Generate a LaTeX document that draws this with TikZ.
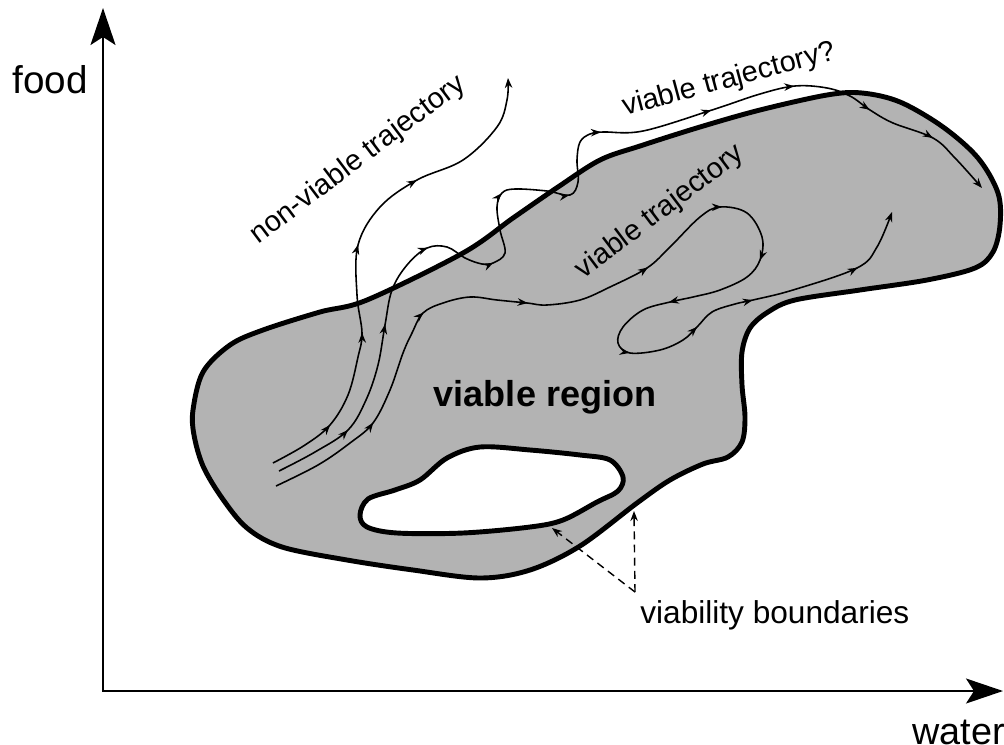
\documentclass[tikz,border=0pt]{standalone}
\usepackage{fontspec}
\setmainfont{Liberation Sans}
\usetikzlibrary{arrows.meta,decorations.markings}
\definecolor{grisregion}{RGB}{179,179,179}

\begin{document}
\begin{tikzpicture}[x=0.02cm,y=-0.02cm]
	% Styles (MODIFIABLES)
	\tikzstyle{axe}=[line width=1.1pt]
	\tikzstyle{frontiere}=[line width=2.8pt,line join=round]
	\tikzstyle{trajectoire}=[line width=0.9pt]
	\tikzstyle{pointilles}=[line width=0.8pt,dash pattern=on 4.5pt off 3pt]
	\tikzstyle{etiquette}=[inner sep=0pt,font=\fontsize{16.5}{19}\selectfont]
	\tikzset{>={Stealth[length=2mm,width=1.5mm]},
		fl/.style={postaction={decorate,decoration={markings,mark=at position #1 with {\arrow{>}}}}}}
	% Cadre
	\useasboundingbox (0,0) rectangle (1004,744);
	% Axes
	\coordinate (O) at (103,691);
	\coordinate (Y) at (103,8);
	\coordinate (X) at (1003,691);
	\draw[axe,{Stealth[length=7.4mm,width=5mm,inset=1.6mm]}-{Stealth[length=7.4mm,width=5mm,inset=1.6mm]}] (Y)--(O)--(X);
	\node[anchor=base west,inner sep=0pt,font=\fontsize{22}{26}\selectfont] (nourriture) at (12,93) {food};
	\node[anchor=base west,inner sep=0pt,font=\fontsize{21.5}{26}\selectfont] (eau) at (912,744) {water};
	% Region viable
	\draw[frontiere,fill=grisregion] plot[smooth cycle,tension=0.55] coordinates {
		(193,410) (203,372) (230,345) (263,330) (320,312) (367,300) (463,253)
		(513,218) (558,187) (600,160) (640,146) (700,127) (760,110) (827,95) (862,93)
		(900,102) (943,127) (978,158) (998,193) (1000,225) (993,252) (975,268) (927,280)
		(860,290) (795,300) (768,312) (750,328) (742,352) (742,385) (745,417) (742,442)
		(728,457) (703,464) (670,480) (637,503) (580,546) (530,570) (480,578) (413,570)
		(347,560) (282,547) (247,528) (222,498) (203,466) (194,435)};
	\draw[frontiere,fill=white] plot[smooth cycle,tension=0.55] coordinates {
		(360,515) (368,499) (395,490) (420,480) (447,458) (480,447) (530,450) (580,455)
		(610,460) (623,477) (618,491) (597,502) (563,520) (530,527) (463,533) (397,533)
		(367,527)};
	% Trajectoires
	\draw[trajectoire,fl=0.139,fl=0.339,fl=0.518,fl=0.699,->] plot[smooth,tension=0.6] coordinates {
		(273,463) (305,445) (330,425) (348,395) (358,357) (362,333) (357,295) (358,245)
		(380,207) (417,180) (463,160) (497,127) (507,100) (508,78)};
	\draw[trajectoire,fl=0.080,fl=0.193,fl=0.284,fl=0.354,fl=0.431,fl=0.500,fl=0.581,
		fl=0.694,fl=0.780,fl=0.861,fl=0.930,->] plot[smooth,tension=0.6] coordinates {
		(279,471) (315,452) (348,430) (366,400) (378,365) (385,325) (392,290) (407,265)
		(427,248) (447,247) (465,258) (482,264) (493,263) (505,253) (500,230) (497,207)
		(502,193) (515,189) (547,191) (570,195) (578,182) (577,160) (580,142) (590,134)
		(603,132) (643,131) (712,110) (760,94) (795,86) (827,88) (850,96) (870,110)
		(893,123) (933,138) (955,158) (982,188)};
	\draw[trajectoire,fl=0.101,fl=0.206,fl=0.299,fl=0.410,fl=0.494,fl=0.562,fl=0.652,
		fl=0.727,fl=0.792,fl=0.847,fl=0.942,->] plot[smooth,tension=0.6] coordinates {
		(276,486) (318,465) (350,443) (373,423) (390,390) (403,353) (412,333) (423,313)
		(443,303) (470,297) (497,300) (527,303) (547,305) (580,300) (610,287) (647,268)
		(670,247) (700,217) (720,207) (747,213) (762,237) (760,260) (747,277) (720,290)
		(693,297) (670,302) (643,310) (623,327) (618,343) (630,353) (660,350) (683,340)
		(697,327) (712,312) (735,304) (753,300) (793,290) (857,268) (877,247) (892,212)};
	% Etiquettes
	\node[etiquette,rotate=37] (nonviable) at (358,160) {non-viable trajectory};
	\node[etiquette,rotate=37] (viable) at (660,212) {viable trajectory};
	\node[etiquette,rotate=15] (viableq) at (729,80) {viable trajectory?};
	\node[anchor=base,inner sep=0pt,font=\bfseries\fontsize{20.5}{24}\selectfont] (region) at (545,406) {viable region};
	% Frontieres
	\node[anchor=base west,inner sep=0pt,font=\fontsize{18}{21}\selectfont] (frontieres) at (640,623) {viability boundaries};
	\coordinate (F) at (635,592);
	\coordinate (Fext) at (634,511);
	\coordinate (Fint) at (552,528);
	\draw[pointilles,->] (F)--(Fext);
	\draw[pointilles,->] (F)--(Fint);
\end{tikzpicture}
\end{document}
